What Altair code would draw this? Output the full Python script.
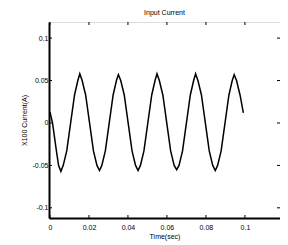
import altair as alt
import pandas as pd

# Time (s) and current values
time_s = [0.0000, 0.0013, 0.0033, 0.0044, 0.0056, 0.0068, 0.0086, 0.0106, 0.0126, 0.0143,
          0.0153, 0.0165, 0.0183, 0.0203, 0.0223, 0.0241, 0.0254, 0.0266, 0.0284, 0.0304,
          0.0324, 0.0341, 0.0351, 0.0363, 0.0381, 0.0401, 0.0421, 0.0439, 0.0452, 0.0464,
          0.0482, 0.0502, 0.0522, 0.0539, 0.0549, 0.0561, 0.0579, 0.0599, 0.0619, 0.0637,
          0.0650, 0.0662, 0.0680, 0.0700, 0.0720, 0.0737, 0.0747, 0.0759, 0.0777, 0.0797,
          0.0817, 0.0835, 0.0848, 0.0860, 0.0878, 0.0898, 0.0918, 0.0935, 0.0945, 0.0957,
          0.0975, 0.0992]
current = [0.013, 0.000, -0.033, -0.050, -0.057, -0.050, -0.033, 0.000, 0.033, 0.050,
           0.058, 0.050, 0.033, 0.000, -0.033, -0.050, -0.056, -0.050, -0.033, 0.000,
           0.033, 0.050, 0.057, 0.050, 0.033, 0.000, -0.033, -0.050, -0.056, -0.050,
           -0.033, 0.000, 0.033, 0.050, 0.058, 0.050, 0.033, 0.000, -0.033, -0.050,
           -0.055, -0.050, -0.033, 0.000, 0.033, 0.050, 0.058, 0.050, 0.033, 0.000,
           -0.033, -0.050, -0.056, -0.050, -0.033, 0.000, 0.033, 0.050, 0.057, 0.050,
           0.033, 0.012]

x_ticks = [0, 0.02, 0.04, 0.06, 0.08, 0.1, 0.12]
y_ticks = [-0.1, -0.05, 0, 0.05, 0.1]

df = pd.DataFrame({"t": time_s, "i": current})
xt = pd.DataFrame({"v": x_ticks[:-1]})
yt = pd.DataFrame({"v": y_ticks})

FONT = "Liberation Sans"
label_expr = "replace(format(datum.value, '~g'), '\u2212', '-')"

xscale = alt.Scale(domain=[-0.0005, 0.118], nice=False, zero=False)
yscale = alt.Scale(domain=[-0.112, 0.119], nice=False, zero=False)

line = alt.Chart(df).mark_line(color="black", strokeWidth=1.5).encode(
    x=alt.X("t:Q", scale=xscale,
            axis=alt.Axis(values=x_ticks, labelExpr=label_expr, title="Time(sec)",
                          ticks=False, domainWidth=2, domainColor="black",
                          labelFont=FONT, labelFontSize=7, labelColor="black",
                          labelPadding=5, labelOverlap=False, titleFont=FONT, titleFontSize=7,
                          titleFontWeight="normal", titleColor="black", titlePadding=2,
                          grid=False, labelFlush=False)),
    y=alt.Y("i:Q", scale=yscale,
            axis=alt.Axis(values=y_ticks, labelExpr=label_expr, title="X100 Current(A)",
                          ticks=False, domainWidth=2, domainColor="black",
                          labelFont=FONT, labelFontSize=7, labelColor="black",
                          labelPadding=1, labelOverlap=False, titleFont=FONT, titleFontSize=7,
                          titleFontWeight="normal", titleColor="black", titlePadding=5,
                          grid=False, labelFlush=False)),
)

xtick_bottom = alt.Chart(xt).mark_rule(color="black", strokeWidth=1).encode(
    x=alt.X("v:Q", scale=xscale), y=alt.value(196), y2=alt.value(193))
xtick_top = alt.Chart(xt).mark_rule(color="black", strokeWidth=1).encode(
    x=alt.X("v:Q", scale=xscale), y=alt.value(0), y2=alt.value(3))
ytick_left = alt.Chart(yt).mark_rule(color="black", strokeWidth=1).encode(
    y=alt.Y("v:Q", scale=yscale), x=alt.value(0), x2=alt.value(3))
ytick_right = alt.Chart(yt).mark_rule(color="black", strokeWidth=1).encode(
    y=alt.Y("v:Q", scale=yscale), x=alt.value(231), x2=alt.value(228))

chart = alt.layer(line, xtick_bottom, xtick_top, ytick_left, ytick_right).properties(
    width=231, height=196,
    title=alt.TitleParams("Input Current", font=FONT, fontSize=7, fontWeight="normal",
                          color="black", offset=6),
    autosize=alt.AutoSizeParams(type="none"),
    padding={"left": 41, "top": 14, "right": 0, "bottom": 27},
).configure_view(stroke="black", strokeWidth=1).configure(background="white")

chart.save("out.html", embed_options={"renderer": "svg", "actions": False})
